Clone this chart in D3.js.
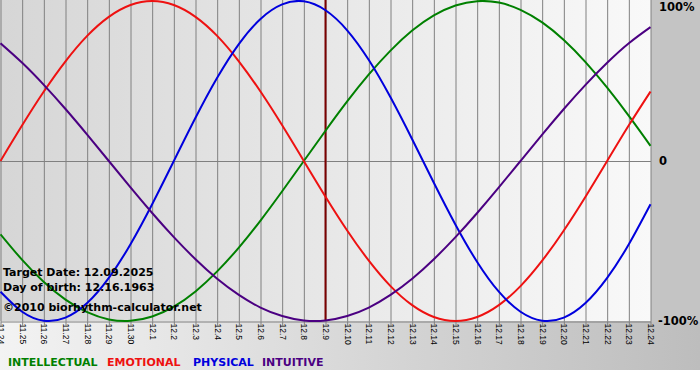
<!DOCTYPE html>
<html>
<head>
<meta charset="utf-8">
<script src="https://cdn.jsdelivr.net/npm/d3@7"></script>
<style>
  body { margin: 0; background: #fff; }
  svg { display: block; font-family: "DejaVu Sans", Verdana, sans-serif; }
</style>
</head>
<body>
<svg id="chart"></svg>
<script>
// дни по оси OX (11.24 - 12.24)
const days = ["11.24","11.25","11.26","11.27","11.28","11.29","11.30","12.1","12.2","12.3","12.4","12.5","12.6","12.7","12.8","12.9","12.10","12.11","12.12","12.13","12.14","12.15","12.16","12.17","12.18","12.19","12.20","12.21","12.22","12.23","12.24"];

// значения циклов в процентах, по дням
const intellectual = [-45.8,-61.8,-75.6,-86.6,-94.5,-99.0,-99.9,-97.2,-91.0,-81.5,-69.0,-54.1,-37.2,-18.9,0,18.9,37.2,54.1,69.0,81.5,91.0,97.2,99.9,99.0,94.5,86.6,75.6,61.8,45.8,28.2,9.5];
const emotional = [0,22.3,43.4,62.3,78.2,90.1,97.5,100,97.5,90.1,78.2,62.3,43.4,22.3,0,-22.3,-43.4,-62.3,-78.2,-90.1,-97.5,-100,-97.5,-90.1,-78.2,-62.3,-43.4,-22.3,0,22.3,43.4];
const physical = [-81.7,-94.2,-99.8,-97.9,-88.8,-73.1,-52.0,-27.0,0,27.0,52.0,73.1,88.8,97.9,99.8,94.2,81.7,63.1,39.8,13.6,-13.6,-39.8,-63.1,-81.7,-94.2,-99.8,-97.9,-88.8,-73.1,-52.0,-27.0];
const intuitive = [73.6,61.4,47.6,32.5,16.5,0,-16.5,-32.5,-47.6,-61.4,-73.6,-83.7,-91.6,-96.9,-99.7,-99.7,-96.9,-91.6,-83.7,-73.6,-61.4,-47.6,-32.5,-16.5,0,16.5,32.5,47.6,61.4,73.6,83.7];

const seriesNames = ["INTELLECTUAL","EMOTIONAL","PHYSICAL","INTUITIVE"];
const seriesColors = ["#008000","#ee1111","#0000dd","#4b0082"];
const targetDay = "12.9";
const infoLines = ["Target Date: 12.09.2025","Day of birth: 12.16.1963","\u00a92010 biorhythm-calculator.net"];
const yLabels = [[100,"100%"],[0,"0"],[-100,"-100%"]];

const width = 700, height = 380;
const plotW = 650, plotTop = 1, plotBottom = 321;

const svg = d3.select("#chart").attr("width", width).attr("height", height);

// фоновые градиенты
const defs = svg.append("defs");
const gPlot = defs.append("linearGradient").attr("id", "plotBg");
gPlot.append("stop").attr("offset", "0%").attr("stop-color", "#d6d6d6");
gPlot.append("stop").attr("offset", "100%").attr("stop-color", "#f9f9f9");
const gBottom = defs.append("linearGradient").attr("id", "bottomBg");
gBottom.append("stop").attr("offset", "0%").attr("stop-color", "#f3f3f3");
gBottom.append("stop").attr("offset", "100%").attr("stop-color", "#bdbdbd");

svg.append("rect").attr("x", 0).attr("y", 0).attr("width", width).attr("height", 370)
  .attr("fill", "url(#bottomBg)");
svg.append("rect").attr("x", plotW + 1).attr("y", 0).attr("width", width - plotW - 1).attr("height", plotBottom + 1)
  .attr("fill", "#c4c4c4");
svg.append("rect").attr("x", 0).attr("y", 0).attr("width", plotW + 1).attr("height", plotBottom)
  .attr("fill", "url(#plotBg)");

// шкалы
const scaleX = d3.scalePoint().domain(days).range([0.5, plotW + 0.5]);
const scaleY = d3.scaleLinear().domain([-100, 100]).range([plotBottom, plotTop]);

// ось OX с сеткой
const axisX = d3.axisBottom(scaleX).tickSizeInner(4).tickSizeOuter(0).tickPadding(3);
const gx = svg.append("g")
  .attr("class", "x-axis")
  .attr("transform", `translate(0, ${plotBottom + 0.5})`)
  .call(axisX);
gx.select(".domain").attr("stroke", "#808080");
gx.selectAll(".tick line").attr("stroke", "#808080");
gx.selectAll(".tick")
  .append("line")
  .attr("x1", 0).attr("x2", 0)
  .attr("y1", 0).attr("y2", -plotBottom - 1)
  .attr("stroke", "#808080");
gx.selectAll(".tick text")
  .attr("fill", "#000")
  .style("font-size", "8.5px")
  .style("text-anchor", "start")
  .attr("x", 0).attr("y", 0)
  .attr("dx", "2px")
  .attr("dy", "0.35em")
  .attr("transform", "rotate(90)");

// нулевая линия
svg.append("line")
  .attr("x1", 0).attr("x2", plotW + 1)
  .attr("y1", scaleY(0) + 0.5).attr("y2", scaleY(0) + 0.5)
  .attr("stroke", "#808080");

// линия целевой даты
svg.append("line")
  .attr("x1", scaleX(targetDay)).attr("x2", scaleX(targetDay))
  .attr("y1", 0).attr("y2", plotBottom)
  .attr("stroke", "#7a0000")
  .attr("stroke-width", 2);

// кривые
const allSeries = [intellectual, emotional, physical, intuitive];
const line = d3.line()
  .x((d, i) => scaleX(days[i]))
  .y(d => scaleY(d))
  .curve(d3.curveNatural);

allSeries.forEach((vals, i) => {
  svg.append("path")
    .datum(vals)
    .attr("d", line)
    .attr("fill", "none")
    .attr("stroke", seriesColors[i])
    .attr("stroke-width", 2);
});

// подписи OY
svg.selectAll(".ylab")
  .data(yLabels)
  .enter()
  .append("text")
  .attr("class", "ylab")
  .attr("x", d => d[0] < 0 ? 658 : 659)
  .attr("y", d => scaleY(d[0]) + 4 + (d[0] > 0 ? 6 : 0))
  .attr("font-size", "11.5px")
  .attr("font-weight", "bold")
  .attr("fill", "#000")
  .text(d => d[1]);

// текст с датами
svg.selectAll(".info")
  .data(infoLines)
  .enter()
  .append("text")
  .attr("class", "info")
  .attr("x", 3)
  .attr("y", (d, i) => [276, 291, 311][i])
  .attr("font-size", "11px")
  .attr("font-weight", "bold")
  .attr("fill", "#000")
  .text(d => d);

// легенда
const legendX = [8, 107, 193, 262];
svg.selectAll(".legend")
  .data(seriesNames)
  .enter()
  .append("text")
  .attr("class", "legend")
  .attr("x", (d, i) => legendX[i])
  .attr("y", 366)
  .attr("font-size", "11px")
  .attr("font-weight", "bold")
  .attr("fill", (d, i) => seriesColors[i])
  .text(d => d);
</script>
</body>
</html>
